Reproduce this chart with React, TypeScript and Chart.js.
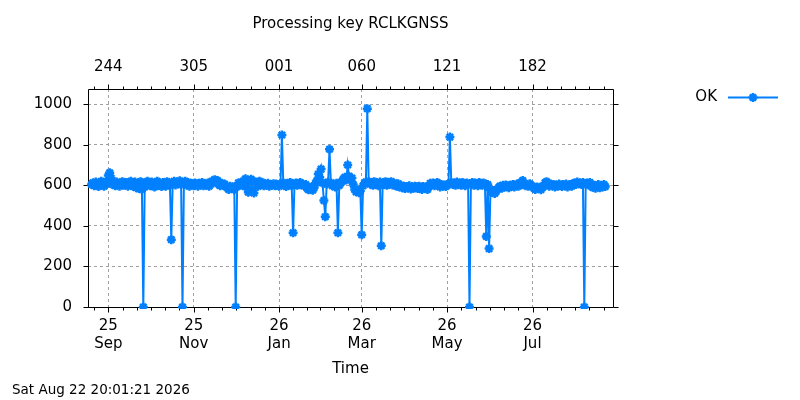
import React, { useEffect, useRef } from "react";
import { Chart, registerables } from "chart.js";
import { drawPoint } from "chart.js/helpers";

Chart.register(...registerables);

// daily OK counts, one array per month, index 0 = day 1 (null = no run)
const aug2025 = [
  null, null, null, null, null, null, null, null, null, null,
  null, null, null, null, null, null, null, null, null, 604,
  612, 598, 616, 606, 594, 611, 620, 602, 596, 614, 608,
];
const sep2025 = [
  648, 662, 636, 604, 612, 598, 616, 604, 596, 610,
  618, 600, 606, 614, 596, 608, 620, 602, 594, 616,
  588, 610, 584, 618, 580, 0, 592, 612, 620, 604,
];
const oct2025 = [
  598, 616, 606, 592, 612, 620, 600, 608, 594, 614,
  604, 596, 618, 606, 600, 332, 612, 620, 602, 616,
  608, 622, 604, 0, 608, 620, 602, 614, 596, 610, 604,
];
const nov2025 = [
  598, 612, 604, 596, 610, 602, 614, 598, 606, 600,
  612, 596, 608, 620, 612, 628, 618, 624, 604, 598,
  610, 600, 606, 594, 588, 580, 596, 584, 592, 578,
];
const dec2025 = [
  0, 594, 612, 602, 616, 598, 608, 632, 592, 566,
  624, 630, 570, 562, 618, 606, 596, 620, 604, 614,
  598, 606, 600, 610, 596, 604, 600, 608, 598, 606, 602,
];
const jan2026 = [
  596, 606, 848, 612, 600, 594, 610, 602, 614, 598,
  366, 604, 612, 600, 608, 614, 602, 606, 598, 604,
  586, 578, 590, 582, 576, 588, 610, 622, 656, 640, 680,
];
const feb2026 = [
  612, 525, 445, 606, 616, 778, 612, 598, 604, 592,
  610, 366, 600, 612, 620, 632, 640, 626, 700, 644,
  628, 636, 604, 580, 568, 576, 564, 572,
];
const mar2026 = [
  356, 598, 610, 616, 978, 618, 606, 614, 600, 618,
  606, 612, 598, 616, 302, 612, 604, 618, 600, 614,
  606, 618, 602, 612, 600, 596, 608, 592, 600, 588, 596,
];
const apr2026 = [
  584, 594, 588, 598, 582, 592, 586, 596, 590, 584,
  596, 588, 580, 594, 586, 592, 580, 598, 610, 602,
  612, 598, 608, 614, 600, 592, 604, 596, 602, 594,
];
const may2026 = [
  600, 608, 838, 614, 604, 612, 600, 616, 606, 612,
  600, 614, 606, 598, 612, 604, 0, 606, 614, 600,
  612, 604, 598, 614, 606, 600, 612, 602, 348, 604, 288,
];
const jun2026 = [
  578, 566, 574, 560, 570, 582, 590, 596, 586, 600,
  592, 602, 594, 588, 600, 596, 604, 592, 600, 606,
  596, 610, 614, 624, 606, 598, 604, 596, 608, 600,
];
const jul2026 = [
  594, 586, 580, 592, 584, 590, 578, 588, 598, 612,
  618, 604, 596, 606, 598, 604, 592, 602, 596, 606,
  600, 594, 604, 598, 606, 592, 600, 604, 596, 608, 612,
];
const aug2026 = [
  604, 616, 608, 612, 604, 614, 0, 606, 612, 602,
  614, 598, 590, 600, 586, 596, 604, 588, 598, 592,
  604, 594,
];

const monthKeys = [
  "2025-08", "2025-09", "2025-10", "2025-11", "2025-12", "2026-01", "2026-02",
  "2026-03", "2026-04", "2026-05", "2026-06", "2026-07", "2026-08",
];
const monthValues = [
  aug2025, sep2025, oct2025, nov2025, dec2025, jan2026, feb2026,
  mar2026, apr2026, may2026, jun2026, jul2026, aug2026,
];

const monthTicks = ["2025-09-01", "2025-11-01", "2026-01-01", "2026-03-01", "2026-05-01", "2026-07-01"];
const monthLabels = [["25", "Sep"], ["25", "Nov"], ["26", "Jan"], ["26", "Mar"], ["26", "May"], ["26", "Jul"]];
const dayOfYearLabels = ["244", "305", "001", "060", "121", "182"];
const yTicks = [0, 200, 400, 600, 800, 1000];

const xMin = "2025-08-17T12:00:00Z";
const xMax = "2026-08-27T12:00:00Z";
const yMax = 1075;

const chartTitle = "Processing key RCLKGNSS";
const stamp = "Sat Aug 22 20:01:21 2026";

const BLUE = "#0080ff";
const GRID = "#a0a0a0";
const FONT = "'DejaVu Sans', sans-serif";
const tickFont = { family: FONT, size: 15, lineHeight: 1.2 };

// gnuplot style box, outward tics, title, time stamp and key
const gnuplotFrame = {
  id: "gnuplotFrame",
  beforeDatasetsDraw(chart: any) {
    const { ctx, chartArea: a } = chart;
    const xs = chart.scales.x;
    const ys = chart.scales.y;
    const L = Math.round(a.left) + 0.5;
    const R = Math.round(a.right) + 0.5;
    const T = Math.round(a.top) + 0.5;
    const B = Math.round(a.bottom) + 0.5;

    ctx.save();
    ctx.strokeStyle = "#000";
    ctx.lineWidth = 1;
    ctx.beginPath();
    ctx.rect(L, T, R - L, B - T);

    const major = xs.ticks.map((t: any) => t.value);
    const minor: number[] = [];
    for (let i = 0; i < major.length - 1; i++) {
      const step = (major[i + 1] - major[i]) / 6;
      for (let k = 1; k < 6; k++) minor.push(major[i] + k * step);
    }
    const first = (major[1] - major[0]) / 6;
    for (let v = major[0] - first; v >= xs.min; v -= first) minor.push(v);
    const n = major.length;
    const last = (major[n - 1] - major[n - 2]) / 6;
    for (let v = major[n - 1] + last; v <= xs.max; v += last) minor.push(v);

    const vtick = (v: number, len: number) => {
      const px = Math.round(xs.getPixelForValue(v)) + 0.5;
      ctx.moveTo(px, B);
      ctx.lineTo(px, B + len);
      ctx.moveTo(px, T);
      ctx.lineTo(px, T - len);
    };
    major.forEach((v: number) => vtick(v, 5));
    minor.forEach((v) => vtick(v, 3));

    ys.ticks.forEach((t: any) => {
      const py = Math.round(ys.getPixelForValue(t.value)) + 0.5;
      ctx.moveTo(L, py);
      ctx.lineTo(L - 5, py);
      ctx.moveTo(R, py);
      ctx.lineTo(R + 5, py);
    });
    ctx.stroke();
    ctx.restore();
  },
  afterDraw(chart: any) {
    const { ctx, chartArea: a } = chart;
    const ds = chart.data.datasets[0];
    ctx.save();
    ctx.fillStyle = "#000";
    ctx.textBaseline = "middle";

    ctx.font = `15px ${FONT}`;
    ctx.textAlign = "center";
    ctx.fillText(chartTitle, (a.left + a.right) / 2, 24);

    ctx.font = `13.5px ${FONT}`;
    ctx.textAlign = "left";
    ctx.fillText(stamp, 12, 390);

    // key
    ctx.font = `15px ${FONT}`;
    ctx.textAlign = "right";
    ctx.fillText(ds.label, 717, 97.5);
    ctx.strokeStyle = BLUE;
    ctx.fillStyle = BLUE;
    ctx.lineWidth = 2;
    ctx.beginPath();
    ctx.moveTo(728, 97.5);
    ctx.lineTo(778, 97.5);
    ctx.stroke();
    ctx.lineWidth = 2.5;
    drawPoint(ctx, { pointStyle: "star", radius: 4.5, borderWidth: 2.5, rotation: 0 } as any, 753, 97.5);
    ctx.restore();
  },
};

const App: React.FC = () => {
  const canvasRef = useRef<HTMLCanvasElement | null>(null);
  const chartRef = useRef<Chart | null>(null);

  useEffect(() => {
    document.body.style.margin = "0";
    if (!canvasRef.current) return;
    if (chartRef.current) chartRef.current.destroy();

    const points: { x: number; y: number }[] = [];
    monthValues.forEach((vals, m) => {
      const [yy, mm] = monthKeys[m].split("-").map(Number);
      vals.forEach((v, i) => {
        if (v !== null) points.push({ x: Date.UTC(yy, mm - 1, i + 1), y: v });
      });
    });
    const tickValues = monthTicks.map((d) => ({ value: Date.parse(d) }));

    chartRef.current = new Chart(canvasRef.current, {
      type: "line",
      data: {
        datasets: [
          {
            label: "OK",
            data: points,
            borderColor: BLUE,
            backgroundColor: BLUE,
            borderWidth: 2,
            pointStyle: "star",
            pointRadius: 4.5,
            pointBorderWidth: 2.5,
            pointBorderColor: BLUE,
            pointBackgroundColor: BLUE,
            tension: 0,
            fill: false,
            clip: { left: 6, right: 6, top: 6, bottom: 2 },
          } as any,
        ],
      },
      options: {
        responsive: false,
        animation: false,
        layout: { padding: { left: 0, right: 187, top: 0, bottom: 0 } },
        plugins: {
          legend: { display: false },
          title: { display: false },
          tooltip: { enabled: false },
        },
        scales: {
          x: {
            type: "linear",
            position: "bottom",
            min: Date.parse(xMin),
            max: Date.parse(xMax),
            afterBuildTicks: (s: any) => {
              s.ticks = tickValues.map((t) => ({ ...t }));
            },
            afterFit: (s: any) => {
              s.height = 93;
            },
            grid: { color: GRID, lineWidth: 1, drawTicks: false },
            border: { display: false, dash: [3, 3] },
            ticks: {
              padding: 10,
              maxRotation: 0,
              autoSkip: false,
              color: "#000",
              font: tickFont,
              callback: (_v: any, i: number) => monthLabels[i],
            },
            title: {
              display: true,
              text: "Time",
              color: "#000",
              font: tickFont,
              padding: { top: 0, bottom: 22 },
            },
          },
          x2: {
            type: "linear",
            position: "top",
            min: Date.parse(xMin),
            max: Date.parse(xMax),
            afterBuildTicks: (s: any) => {
              s.ticks = tickValues.map((t) => ({ ...t }));
            },
            afterFit: (s: any) => {
              s.height = 89;
            },
            grid: { display: false, drawTicks: false },
            border: { display: false },
            ticks: {
              padding: 13,
              maxRotation: 0,
              autoSkip: false,
              color: "#000",
              font: tickFont,
              callback: (_v: any, i: number) => dayOfYearLabels[i],
            },
          },
          y: {
            type: "linear",
            position: "left",
            min: 0,
            max: yMax,
            afterBuildTicks: (s: any) => {
              s.ticks = yTicks.map((v) => ({ value: v }));
            },
            afterFit: (s: any) => {
              s.width = 88;
            },
            grid: { color: GRID, lineWidth: 1, drawTicks: false },
            border: { display: false, dash: [3, 3] },
            ticks: {
              padding: 16,
              color: "#000",
              font: tickFont,
              callback: (v: any) => String(v),
            },
          },
        },
      } as any,
      plugins: [gnuplotFrame],
    });

    return () => {
      chartRef.current?.destroy();
      chartRef.current = null;
    };
  }, []);

  return (
    <div style={{ width: 800, height: 400 }}>
      <canvas ref={canvasRef} width={800} height={400} style={{ display: "block" }} />
    </div>
  );
};

export default App;
